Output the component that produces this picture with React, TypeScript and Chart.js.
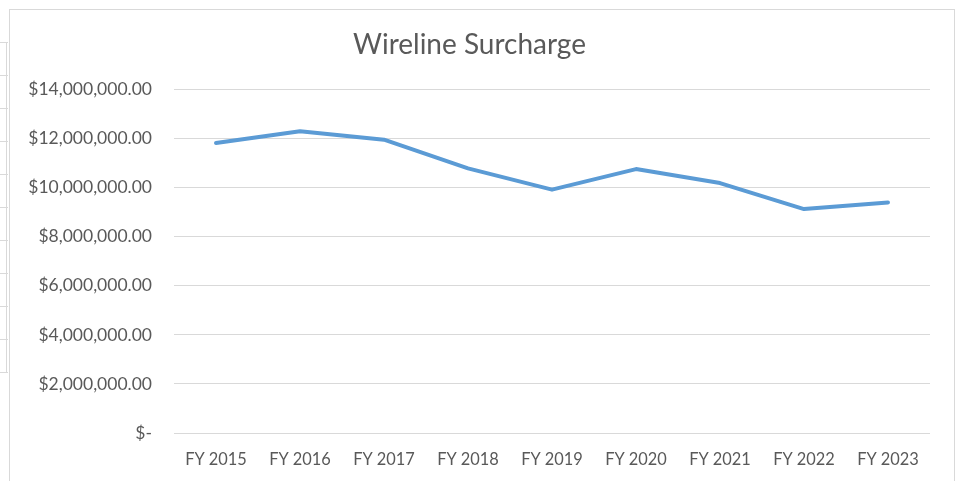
import React, { useEffect, useRef } from "react";
import { Chart, registerables } from "chart.js";

Chart.register(...registerables);

const TITLE = "Wireline Surcharge";
const categories = ["FY 2015", "FY 2016", "FY 2017", "FY 2018", "FY 2019", "FY 2020", "FY 2021", "FY 2022", "FY 2023"];
const surcharge = [11820000, 12300000, 11960000, 10790000, 9920000, 10760000, 10190000, 9130000, 9400000];
const yMin = 0;
const yMax = 14000000;
const yStep = 2000000;

function fmt(v: number): string {
  if (v === 0) return "$-";
  return "$" + v.toLocaleString("en-US", { minimumFractionDigits: 2, maximumFractionDigits: 2 });
}

const FONT = "Lato, 'Open Sans', sans-serif";
const TEXT = "#595959";

export default function App() {
  const ref = useRef<HTMLCanvasElement | null>(null);
  useEffect(() => {
    if (!ref.current) return;
    const chart = new Chart(ref.current, {
      type: "line",
      data: {
        labels: categories,
        datasets: [
          {
            label: TITLE,
            data: surcharge,
            borderColor: "#5b9bd5",
            backgroundColor: "#5b9bd5",
            borderWidth: 4,
            pointRadius: 0,
            tension: 0,
            borderCapStyle: "round",
            borderJoinStyle: "round",
          },
        ],
      },
      options: {
        animation: false,
        responsive: false,
        maintainAspectRatio: false,
        layout: { padding: { left: 0, right: 25, top: 0, bottom: 12 } },
        plugins: {
          legend: { display: false },
          tooltip: { enabled: false },
          title: {
            display: true,
            text: TITLE,
            color: TEXT,
            font: { family: FONT, size: 28, weight: "normal" },
            padding: { top: 19, bottom: 28 },
          },
        },
        scales: {
          x: {
            offset: true,
            grid: { display: false, drawTicks: false },
            border: { display: false },
            afterFit: (s: any) => {
              s.height = 36;
            },
            ticks: {
              color: TEXT,
              font: { family: FONT, size: 16.4 },
              padding: 17,
              maxRotation: 0,
              autoSkip: false,
            },
          },
          y: {
            min: yMin,
            max: yMax,
            border: { display: false },
            grid: { color: "#d9d9d9", lineWidth: 1, drawTicks: false },
            afterFit: (s: any) => {
              s.width = 165;
            },
            ticks: {
              stepSize: yStep,
              color: TEXT,
              font: { family: FONT, size: 17.5 },
              padding: 22,
              callback: (v: any) => fmt(Number(v)),
            },
          },
        },
      },
    });
    return () => chart.destroy();
  }, []);

  const leftLines = [42, 75, 108, 141, 174, 207, 240, 273, 306, 339, 372];

  return (
    <div style={{ position: "fixed", left: 0, top: 0, width: 961, height: 481, background: "#fff", overflow: "hidden" }}>
      <div style={{ position: "absolute", left: 6, top: 42, width: 1, height: 330, background: "#d9d9d9" }} />
      {leftLines.map((y) => (
        <div key={y} style={{ position: "absolute", left: 0, top: y, width: 8, height: 1, background: "#d9d9d9" }} />
      ))}
      <div
        style={{
          position: "absolute",
          left: 9,
          top: 9,
          width: 946,
          height: 480,
          boxSizing: "border-box",
          border: "1px solid #d9d9d9",
        }}
      />
      <canvas ref={ref} width={946} height={472} style={{ position: "absolute", left: 9, top: 9, width: 946, height: 472 }} />
    </div>
  );
}
